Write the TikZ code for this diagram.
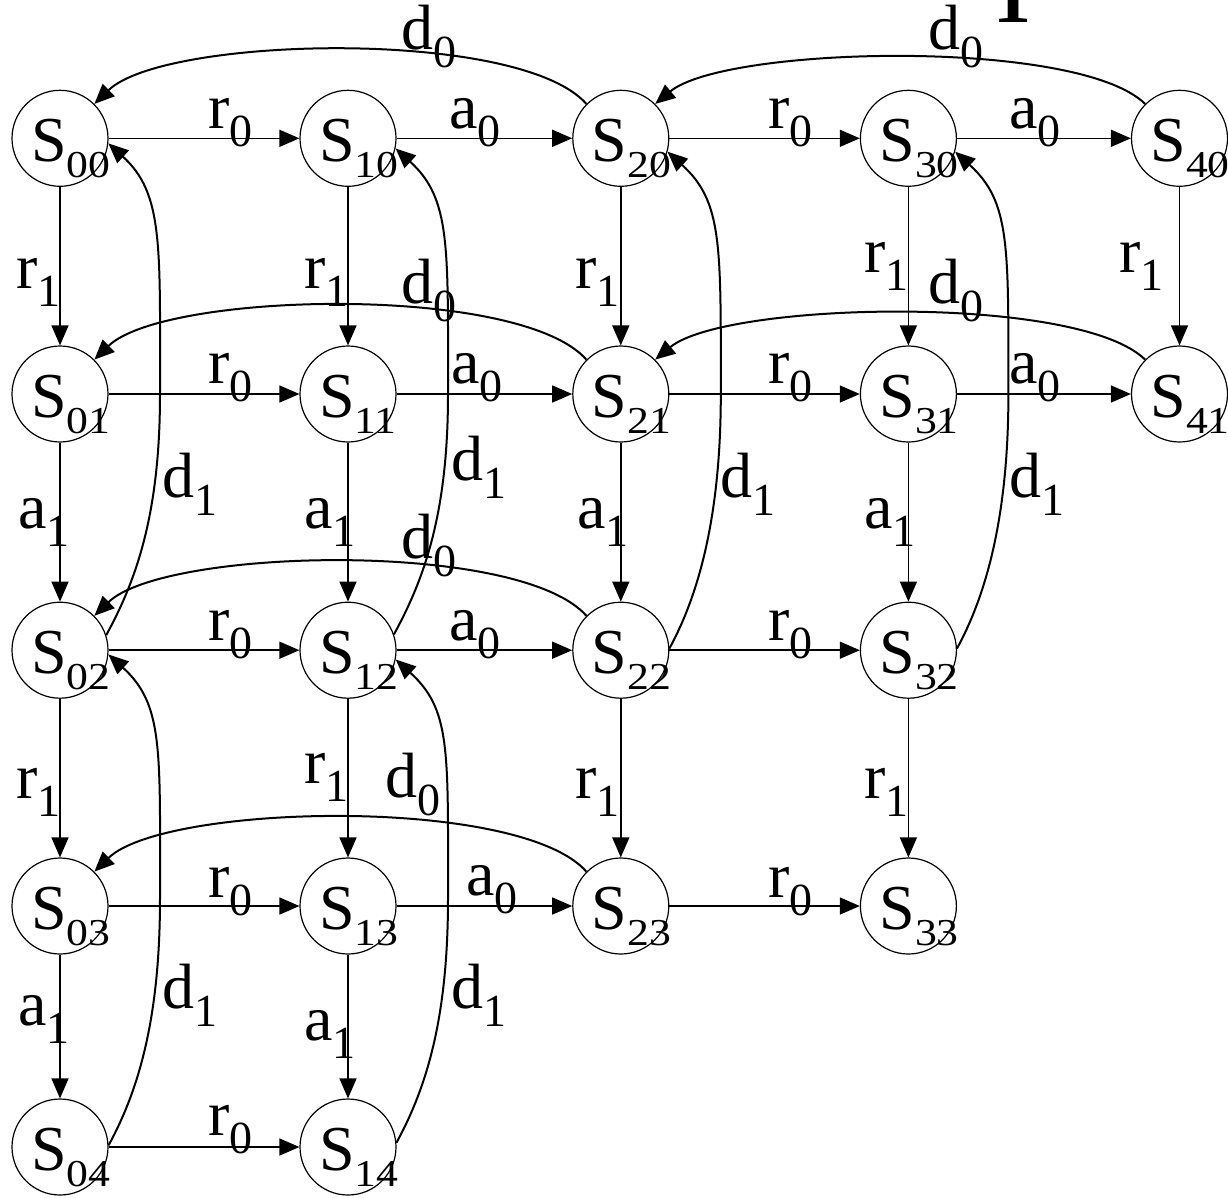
\documentclass[tikz,border=0pt]{standalone}
\usepackage{fontspec}
\setmainfont{Liberation Serif}
\usepackage{graphicx}
\usetikzlibrary{arrows.meta,calc}

\newcommand\stl[1]{\smash{\makebox[0pt][l]{\hspace*{-29pt}\raisebox{-23pt}{S\raisebox{-16pt}{\scalebox{1.15}[1]{\fontsize{38}{42}\selectfont #1}}}}}}
\newcommand\el[2]{#1\raisebox{-18pt}{\fontsize{46}{50}\selectfont #2}}
\newcommand\dcurve[4]{%
  \draw[cv] (#1.#2) .. controls +(30,-55) and +(0,120) .. ($(#1)!0.5!(#3)+(100,0)$)
     .. controls +(0,-150) and +(55,50) .. (#3.#4);}

\begin{document}
\begin{tikzpicture}[x=1pt,y=-1pt,
  st/.style={circle, draw, line width=1.2pt, minimum size=96pt, inner sep=0pt,
             font=\fontsize{64}{70}\selectfont},
  lbl/.style={inner sep=0pt, anchor=base west, font=\fontsize{64}{70}\selectfont},
  ar/.style={line width=1.5pt, -{Triangle[length=20pt,width=17pt]}},
  cv/.style={line width=2pt, -{Triangle[length=20pt,width=17pt]}}]
\useasboundingbox (0,0) rectangle (1228,1197);

% states
\foreach \i/\x in {0/60,1/348,2/620.8,3/908.4,4/1179.5}{
  \foreach \j/\y in {0/138.3,1/394,2/650.2,3/906,4/1147}{
    \pgfmathtruncatemacro\ok{(\i<=1) || (\i<=3 && \j<=3) || (\j<=1)}
    \ifnum\ok=1
      \node[st] (s\i\j) at (\x,\y) {\stl{\i\j}};
    \fi
  }
}

% horizontal edges
\foreach \a/\b in {00/10,10/20,20/30,30/40,01/11,11/21,21/31,31/41,02/12,12/22,22/32,03/13,13/23,23/33,04/14}
  \draw[ar] (s\a) -- (s\b);
% vertical edges
\foreach \a/\b in {00/01,01/02,02/03,03/04,10/11,11/12,12/13,13/14,20/21,21/22,22/23,30/31,31/32,32/33,40/41}
  \draw[ar] (s\a) -- (s\b);

% d0 arcs
\foreach \a/\b in {20/00,21/01,22/02,23/03}
  \draw[cv] (s\a.135) .. controls +(-67,-76) and +(70,-68) .. (s\b.45);
\foreach \a/\b in {40/20,41/21}
  \draw[cv] (s\a.135) .. controls +(-67,-66) and +(70,-58) .. (s\b.45);

% d1 curves
\dcurve{s02}{18}{s00}{-6}
\dcurve{s12}{19}{s10}{-12}
\dcurve{s22}{2}{s20}{-16}
\dcurve{s32}{2}{s30}{-16}
\dcurve{s04}{2}{s02}{-5}
\dcurve{s14}{5}{s12}{-11}

% edge labels
\foreach \n/\x/\y/\t/\s in {
  1/208/128/r/0, 2/449/128/a/0, 3/768/128/r/0, 4/1009/128/a/0,
  5/401/49/d/0, 6/928/49/d/0,
  7/16/288/r/1, 8/304/288/r/1, 9/575/288/r/1, 10/864/272/r/1, 11/1119/272/r/1,
  12/401/303/d/0, 13/928/303/d/0,
  14/208/383/r/0, 15/451/383/a/0, 16/768/383/r/0, 17/1009/383/a/0,
  18/18/528/a/1, 19/162/497/d/1, 20/304/528/a/1, 21/451/480/d/1,
  22/577/528/a/1, 23/720/497/d/1, 24/864/528/a/1, 25/1009/497/d/1,
  26/401/558/d/0,
  27/208/640/r/0, 28/449/640/a/0, 29/768/640/r/0,
  30/16/798/r/1, 31/304/783/r/1, 32/385/797/d/0, 33/575/798/r/1, 34/864/798/r/1,
  35/208/897/r/0, 36/466/895/a/0, 37/768/897/r/0,
  38/18/1025/a/1, 39/162/1008/d/1, 40/304/1040/a/1, 41/451/1008/d/1,
  42/208/1135/r/0}
  \node[lbl] (L\n) at (\x,\y) {\el{\t}{\s}};

% title fragment at top
\node[inner sep=0pt, anchor=base, font=\fontsize{76}{80}\selectfont\bfseries] (title) at (1012,22) {1};
\end{tikzpicture}
\end{document}
